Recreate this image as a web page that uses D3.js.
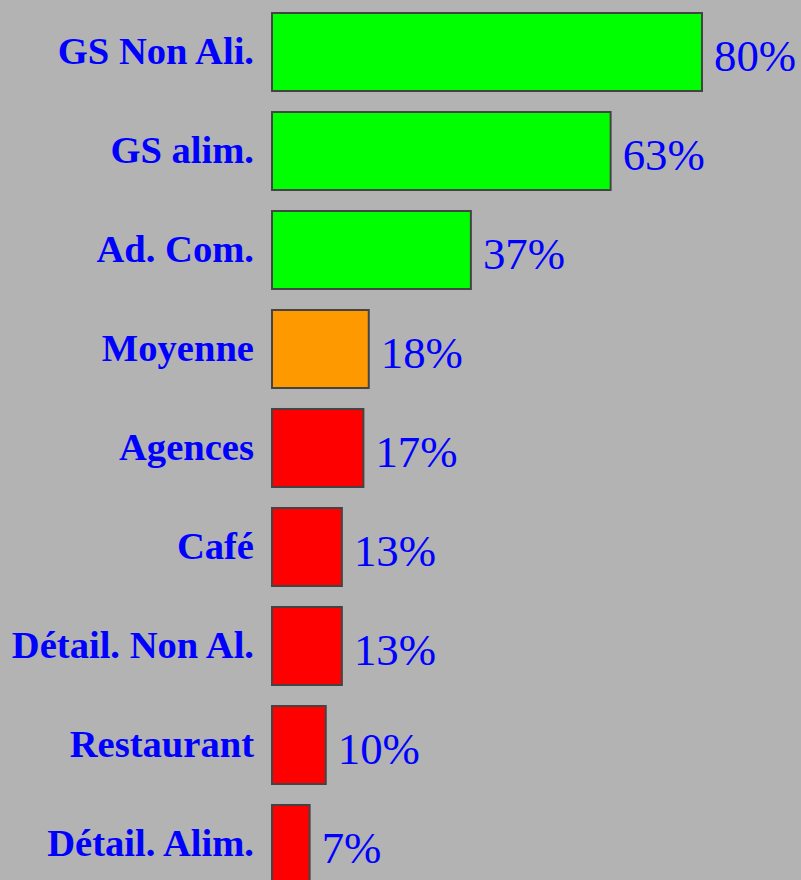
<!DOCTYPE html>
<html><head><meta charset="utf-8">
<script src="https://cdn.jsdelivr.net/npm/d3@7"></script>
<style>html,body{margin:0;padding:0;background:#b3b3b3;overflow:hidden}</style>
</head><body>
<script>
const categories = ["GS Non Ali.","GS alim.","Ad. Com.","Moyenne","Agences","Café","Détail. Non Al.","Restaurant","Détail. Alim."];
const values = [80,63,37,18,17,13,13,10,7];
const colors = ["#00ff00","#00ff00","#00ff00","#ff9900","#ff0000","#ff0000","#ff0000","#ff0000","#ff0000"];

const W = 801, H = 880;
const svg = d3.select("body").append("svg").attr("width", W).attr("height", H);
svg.append("rect").attr("width", W).attr("height", H).attr("fill", "#b3b3b3");

const x = d3.scaleLinear().domain([0, 80]).range([272, 702]);
const y = d3.scaleBand().domain(categories).range([2.5, 893.5]).paddingInner(0.212).paddingOuter(0.106);

const g = svg.append("g");
g.selectAll("rect.bar").data(categories).join("rect")
  .attr("class","bar")
  .attr("x", x(0))
  .attr("y", d => y(d))
  .attr("width", (d,i) => x(values[i]) - x(0))
  .attr("height", y.bandwidth())
  .attr("fill", (d,i) => colors[i])
  .attr("stroke", "#444")
  .attr("stroke-width", 2);

g.selectAll("text.cat").data(categories).join("text")
  .attr("class","cat")
  .attr("x", 254)
  .attr("y", d => y(d) + y.bandwidth()/2)
  .attr("dy", "0.32em")
  .attr("text-anchor", "end")
  .attr("fill", "#0000ff")
  .attr("font-family", "'Liberation Serif', 'Times New Roman', serif")
  .attr("font-weight", "bold")
  .attr("font-size", 38.6)
  .text(d => d);

g.selectAll("text.val").data(categories).join("text")
  .attr("class","val")
  .attr("x", (d,i) => x(values[i]) + 12)
  .attr("y", d => y(d) + y.bandwidth()/2)
  .attr("dy", "0.42em")
  .attr("fill", "#0000ff")
  .attr("font-family", "'Liberation Serif', 'Times New Roman', serif")
  .attr("font-size", 44.8)
  .text((d,i) => values[i] + "%");
</script>
</body></html>
